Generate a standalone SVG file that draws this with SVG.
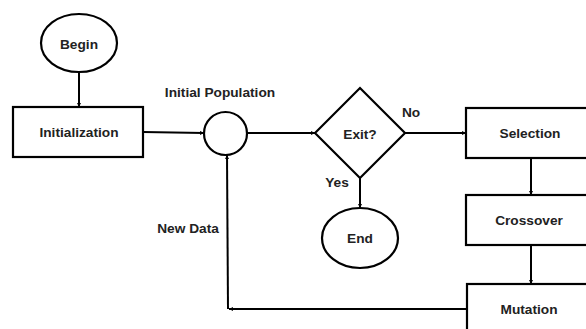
<svg xmlns="http://www.w3.org/2000/svg" width="586" height="329" viewBox="0 0 586 329">
<defs>
<style>
.s{fill:#fff;stroke:#000;stroke-width:2.2}
.c{fill:none;stroke:#000;stroke-width:2}
.t{font-family:"Liberation Sans",Arial,sans-serif;font-weight:bold;font-size:13.7px;fill:#222;text-anchor:middle;dominant-baseline:central}
</style>
<marker id="a" viewBox="0 0 10 10" refX="10" refY="5" markerWidth="4" markerHeight="4" orient="auto" markerUnits="userSpaceOnUse">
<path d="M0,0 L10,5 L0,10 z" fill="#000"/>
</marker>
</defs>
<rect width="586" height="329" fill="#fff"/>
<g id="connectors">
<line class="c" x1="79" y1="72" x2="79" y2="107" marker-end="url(#a)"/>
<line class="c" x1="143" y1="132" x2="204" y2="133" marker-end="url(#a)"/>
<line class="c" x1="247" y1="133" x2="315" y2="133" marker-end="url(#a)"/>
<line class="c" x1="405" y1="133" x2="466" y2="133" marker-end="url(#a)"/>
<line class="c" x1="360" y1="178" x2="360" y2="208" marker-end="url(#a)"/>
<line class="c" x1="531" y1="158" x2="531" y2="195" marker-end="url(#a)"/>
<line class="c" x1="531" y1="245" x2="531" y2="284" marker-end="url(#a)"/>
<polyline class="c" points="467,309 229,309" marker-end="url(#a)"/>
<line class="c" x1="228" y1="309" x2="227" y2="155" marker-end="url(#a)"/>
</g>
<g id="begin"><ellipse class="s" cx="79" cy="43" rx="38" ry="29"/><text class="t" x="79" y="44">Begin</text></g>
<g id="initialization"><rect class="s" x="13" y="107" width="130" height="50"/><text class="t" x="79" y="132">Initialization</text></g>
<g id="population"><circle class="s" cx="225.5" cy="133.5" r="21.5"/><text class="t" x="220" y="92">Initial Population</text></g>
<g id="exit"><polygon class="s" points="315,133 360,88 405,133 360,178"/><text class="t" x="360" y="134">Exit?</text><text class="t" x="411" y="112">No</text><text class="t" x="337" y="182">Yes</text></g>
<g id="end"><ellipse class="s" cx="360" cy="238" rx="38" ry="30"/><text class="t" x="360" y="238">End</text></g>
<g id="selection"><rect class="s" x="466" y="108" width="130" height="50"/><text class="t" x="530" y="133">Selection</text></g>
<g id="crossover"><rect class="s" x="466" y="195" width="130" height="50"/><text class="t" x="529" y="220">Crossover</text></g>
<g id="mutation"><rect class="s" x="467" y="284" width="130" height="60"/><text class="t" x="529" y="309">Mutation</text></g>
<g id="newdata"><text class="t" x="188" y="228">New Data</text></g>
</svg>
